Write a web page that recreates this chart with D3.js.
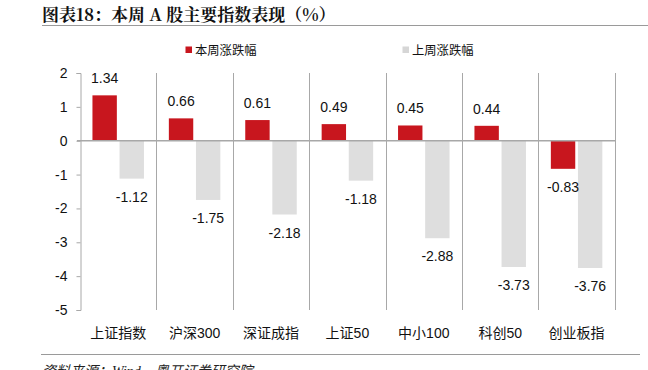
<!DOCTYPE html>
<html>
<head>
<meta charset="utf-8">
<script src="https://cdn.jsdelivr.net/npm/d3@7"></script>
<style>
  body { margin: 0; background: #fff; }
  svg { font-family: "Liberation Sans", Arial, "Noto Sans CJK SC", sans-serif; }
</style>
</head>
<body>
<div id="graf"></div>
<script>
const categorias = ["上证指数", "沪深300", "深证成指", "上证50", "中小100", "科创50", "创业板指"]
const estaSemana = [1.34, 0.66, 0.61, 0.49, 0.45, 0.44, -0.83]
const semanaPasada = [-1.12, -1.75, -2.18, -1.18, -2.88, -3.73, -3.76]
const series = ["本周涨跌幅", "上周涨跌幅"]
const yTicks = [2, 1, 0, -1, -2, -3, -4, -5]

const colores = ["#c8161e", "#dedede"]

const ancho = 648
const alto = 370

// guion normal en vez del signo menos unicode
const fmt = (f) => (v) => f(v).replace("−", "-")

const svg = d3.select("#graf")
  .append("svg")
  .attr("width", ancho)
  .attr("height", alto)

// titulo
svg.append("text")
  .attr("x", 42)
  .attr("y", 21)
  .attr("font-family", "'Noto Serif CJK SC', 'Noto Sans CJK SC', serif")
  .attr("font-weight", "bold")
  .attr("font-size", 17)
  .attr("fill", "#111")
  .text("图表18：本周 A 股主要指数表现（%）")

svg.append("line")
  .attr("x1", 42).attr("x2", 648)
  .attr("y1", 25.5).attr("y2", 25.5)
  .attr("stroke", "#9a9a9a")

// escalas
const y = d3.scaleLinear().domain([-5, 2]).range([310, 73])
const x0 = d3.scaleBand()
  .domain(categorias)
  .range([80, 614.8])
  .paddingInner(0.326)
  .paddingOuter(0.163)
const x1 = d3.scaleBand()
  .domain(series)
  .range([0, x0.bandwidth()])
  .paddingInner(0.1)

const datos = categorias.map((c, i) => ({
  cat: c,
  vals: [
    { s: series[0], v: estaSemana[i] },
    { s: series[1], v: semanaPasada[i] },
  ],
}))

// lineas verticales entre categorias
const bordes = categorias.map((c) => x0(c) - x0.step() * 0.163).concat([614.8])
svg.append("g")
  .selectAll("line")
  .data(bordes.slice(1))
  .enter()
  .append("line")
  .attr("x1", (d) => Math.round(d) + 0.5)
  .attr("x2", (d) => Math.round(d) + 0.5)
  .attr("y1", y(2))
  .attr("y2", y(-5))
  .attr("stroke", "#a8a8a8")

// eje y
const ejeY = svg.append("g")
  .attr("transform", "translate(80.5,0)")
  .call(d3.axisLeft(y).tickValues(yTicks).tickSize(4).tickPadding(9).tickFormat(fmt(d3.format("d"))))
ejeY.select(".domain").attr("stroke", "#a8a8a8")
ejeY.selectAll(".tick line").attr("stroke", "#a8a8a8")
ejeY.selectAll(".tick text")
  .attr("font-size", 14)
  .attr("fill", "#111")
  .attr("font-family", "'Liberation Sans', Arial, sans-serif")

// barras
const grupos = svg.append("g")
  .selectAll("g")
  .data(datos)
  .enter()
  .append("g")
  .attr("transform", (d) => `translate(${x0(d.cat)},0)`)

grupos.selectAll("rect")
  .data((d) => d.vals)
  .enter()
  .append("rect")
  .attr("x", (d) => x1(d.s))
  .attr("width", x1.bandwidth())
  .attr("y", (d) => y(Math.max(0, d.v)))
  .attr("height", (d) => Math.abs(y(d.v) - y(0)))
  .attr("fill", (d, i) => colores[i])

grupos.selectAll("text")
  .data((d) => d.vals)
  .enter()
  .append("text")
  .attr("x", (d) => x1(d.s) + x1.bandwidth() / 2)
  .attr("y", (d) => (d.v >= 0 ? y(d.v) - 12 : y(d.v) + 23))
  .attr("text-anchor", "middle")
  .attr("font-size", 14)
  .attr("fill", "#111")
  .text((d) => fmt(d3.format(".2f"))(d.v))

// linea cero
svg.append("line")
  .attr("x1", 77).attr("x2", 615)
  .attr("y1", y(0)).attr("y2", y(0))
  .attr("stroke", "#a8a8a8")
  .attr("stroke-width", 1.6)

// etiquetas de categoria
svg.append("g")
  .selectAll("text")
  .data(categorias)
  .enter()
  .append("text")
  .attr("x", (d) => x0(d) + x0.bandwidth() / 2)
  .attr("y", 338)
  .attr("text-anchor", "middle")
  .attr("font-size", 14)
  .attr("fill", "#111")
  .text((d) => d)

// leyenda
const leyendaX = [185.5, 402.5]
const leyenda = svg.append("g")
  .selectAll("g")
  .data(series)
  .enter()
  .append("g")
  .attr("transform", (d, i) => `translate(${leyendaX[i]},0)`)
leyenda.append("rect")
  .attr("x", 0).attr("y", 46.5)
  .attr("width", 6.5).attr("height", 6.5)
  .attr("fill", (d, i) => (i === 0 ? colores[0] : "#d6d6d6"))
leyenda.append("text")
  .attr("x", 9.5)
  .attr("y", 54.5)
  .attr("font-size", 12.3)
  .attr("fill", "#111")
  .text((d) => d)

// fuente (cortada por el borde inferior, como en el original)
svg.append("line")
  .attr("x1", 41).attr("x2", 640)
  .attr("y1", 354.5).attr("y2", 354.5)
  .attr("stroke", "#9a9a9a")
svg.append("text")
  .attr("x", 42)
  .attr("y", 376)
  .attr("font-size", 14)
  .attr("font-style", "italic")
  .attr("font-family", "'Liberation Serif', 'Noto Sans CJK SC', serif")
  .attr("fill", "#222")
  .text("资料来源：Wind，粤开证券研究院")
</script>
</body>
</html>
